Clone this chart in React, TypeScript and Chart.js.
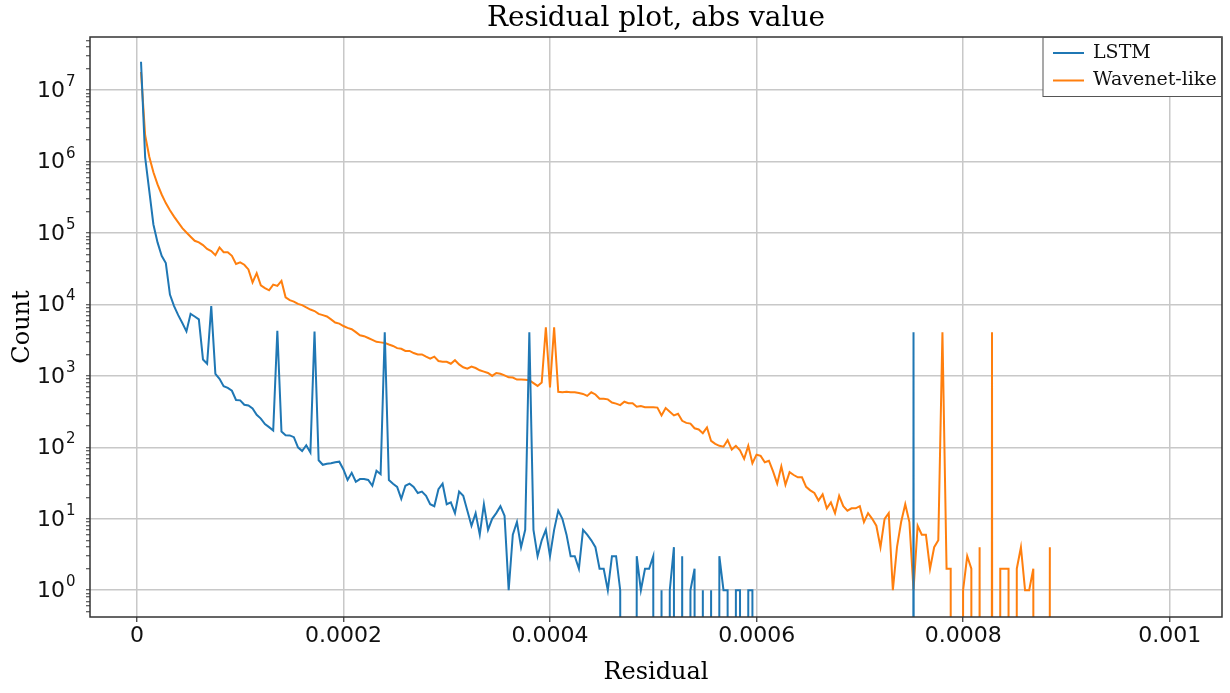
import React, { useEffect, useRef } from 'react';
import { Chart, registerables } from 'chart.js';

Chart.register(...registerables);

// Histogram of absolute residuals: bin spacing and the centre of the first bin
const binWidth = 4.0e-6;
const firstBinCenter = 3.9e-6;

// Counts per bin, LSTM model
const lstmCounts = [
  25000000, 1150000, 389000, 132000, 74000, 48000, 38000, 13800, 9500, 7100,
  5500, 4200, 7400, 6800, 6200, 1700, 1480, 9500, 1070, 910,
  720, 680, 620, 460, 455, 395, 385, 350, 285, 253,
  212, 192, 172, 4300, 167, 148, 147, 139, 100, 89,
  107, 85, 4200, 66, 57, 59, 60, 62, 63, 49,
  35, 44, 33, 36, 36, 35, 29, 47, 42, 4100,
  35, 31, 28, 19, 29, 31, 28, 23, 24, 21,
  16, 15, 26, 31, 16, 17, 12, 24, 21, 13,
  8, 12, 6, 16, 7, 10, 12, 15, 11, 1,
  6, 9, 4, 7, 4100, 7, 3, 5, 7, 3,
  7, 13, 10, 6, 3, 3, 2, 7, 6, 5,
  4, 2, 2, 1, 3, 3, 1, 0, 0, 0,
  3, 1, 2, 2, 3, 0, 1, 0, 1, 4,
  0, 3, 0, 1, 2, 0, 1, 0, 1, 0,
  3, 1, 1, 0, 1, 1, 0, 1, 1, 0,
  0, 0, 0, 0, 0, 0, 0, 0, 0, 0,
  0, 0, 0, 0, 0, 0, 0, 0, 0, 0,
  0, 0, 0, 0, 0, 0, 0, 0, 0, 0,
  0, 0, 0, 0, 0, 0, 0, 4100, 0, 0,
  0, 0, 0, 0, 0, 0, 0, 0, 0, 0,
  0, 0, 0, 0, 0, 0, 0, 0, 0, 0,
  0, 0, 0, 0, 0, 0, 0, 0, 0, 0,
  0,
];

// Counts per bin, Wavenet-like model
const wavenetCounts = [
  18000000, 2340000, 1170000, 710000, 480000, 347000, 263000, 209000, 170000, 141000,
  117000, 102000, 89000, 78000, 74000, 68000, 60000, 56000, 49000, 63000,
  54000, 54000, 48000, 37000, 39000, 36000, 31000, 20400, 27500, 18600,
  17000, 15800, 19000, 18200, 21400, 12600, 11500, 11000, 10200, 9800,
  9100, 8500, 8100, 7400, 7100, 6800, 6200, 5600, 5400, 5000,
  4700, 4500, 4100, 3700, 3600, 3400, 3200, 3000, 2950, 2900,
  2750, 2630, 2450, 2400, 2240, 2240, 2090, 2000, 2000, 1860,
  1740, 1860, 1620, 1580, 1580, 1480, 1660, 1450, 1320, 1260,
  1350, 1290, 1200, 1150, 1100, 1000, 1100, 1070, 1020, 955,
  950, 890, 890, 885, 870, 795, 725, 810, 4800, 690,
  4800, 600, 590, 600, 590, 590, 575, 560, 525, 590,
  550, 480, 480, 470, 425, 410, 390, 435, 415, 415,
  370, 380, 365, 365, 365, 360, 280, 355, 315, 280,
  295, 235, 220, 215, 185, 178, 158, 190, 123, 112,
  105, 102, 126, 93, 105, 91, 69, 105, 60, 79,
  76, 62, 65, 46, 31, 54, 30, 45, 41, 38,
  38, 28, 25, 23, 18, 22, 14, 17, 12, 21,
  15, 13, 14, 14, 15, 9, 12, 10, 8, 4,
  10, 12, 1, 4, 9, 16, 9, 1, 8, 6,
  6, 2, 4, 5, 4100, 2, 2, 0, 0, 1,
  3, 2, 0, 4, 0, 0, 4100, 0, 2, 2,
  2, 0, 2, 4, 1, 1, 2, 0, 0, 0,
  4,
];

const seriesNames = ['LSTM', 'Wavenet-like'];
const seriesColors = ['#1f77b4', '#ff7f0e'];

// Axis ticks and limits
const xTickValues = [0, 0.0002, 0.0004, 0.0006, 0.0008, 0.001];
const xTickLabels = ['0', '0.0002', '0.0004', '0.0006', '0.0008', '0.001'];
const yDecades = [0, 1, 2, 3, 4, 5, 6, 7];
const xLimits = [-4.55e-5, 1.0506e-3];
const yLimits = [0.4217, 5.56e7];

const titleText = 'Residual plot, abs value';
const xTitle = 'Residual';
const yTitle = 'Count';

// Empty bins sit far below the visible range, as a clipped log plot draws them
const LOG_FLOOR = 1e-100;

const SERIF = '"DejaVu Serif", serif';
const SANS = '"DejaVu Sans", sans-serif';
const GRID = '#c8c8c8';
const AXIS = '#333333';
const TEXT = '#111111';

const toPoints = (counts: number[]) =>
  counts.map((c, i) => ({ x: firstBinCenter + i * binWidth, y: c > 0 ? c : LOG_FLOOR }));

const isDecade = (v: number) => {
  const l = Math.log10(v);
  return Math.abs(l - Math.round(l)) < 1e-6;
};

const yTickValues: number[] = [];
for (let e = -1; e <= 7; e++) {
  for (let m = 1; m <= 9; m++) {
    const v = m * Math.pow(10, e);
    if (v >= yLimits[0] && v <= yLimits[1]) yTickValues.push(v);
  }
}

const decorations = {
  id: 'decorations',
  afterDatasetsDraw(chart: any) {
    const { ctx, chartArea: a } = chart;
    ctx.save();
    ctx.strokeStyle = AXIS;
    ctx.lineWidth = 1.5;
    ctx.strokeRect(a.left, a.top, a.right - a.left, a.bottom - a.top);
    ctx.restore();
  },
  afterDraw(chart: any) {
    const { ctx, chartArea: a, scales } = chart;
    const y = scales.y;
    ctx.save();
    // decade labels on the log axis: 10 with a raised exponent
    ctx.fillStyle = TEXT;
    ctx.textBaseline = 'middle';
    for (const p of yDecades) {
      const py = y.getPixelForValue(Math.pow(10, p));
      ctx.font = `22px ${SANS}`;
      ctx.textAlign = 'right';
      ctx.fillText('10', 65, py + 1);
      ctx.font = `15px ${SANS}`;
      ctx.textAlign = 'left';
      ctx.fillText(String(p), 66, py - 8);
    }

    // legend box in the upper right corner
    const boxW = 178.5;
    const boxH = 59;
    const bx = a.right - boxW - 0.5;
    const by = a.top + 0.5;
    ctx.fillStyle = '#ffffff';
    ctx.fillRect(bx, by, boxW, boxH);
    ctx.strokeStyle = '#555555';
    ctx.lineWidth = 1;
    ctx.strokeRect(bx, by, boxW, boxH);
    chart.data.datasets.forEach((ds: any, i: number) => {
      const ly = by + 15.5 + i * 27.5;
      ctx.strokeStyle = ds.borderColor;
      ctx.lineWidth = 2;
      ctx.beginPath();
      ctx.moveTo(bx + 10, ly);
      ctx.lineTo(bx + 41, ly);
      ctx.stroke();
      ctx.fillStyle = TEXT;
      ctx.font = `19px ${SERIF}`;
      ctx.textAlign = 'left';
      ctx.textBaseline = 'middle';
      ctx.fillText(ds.label, bx + 50, ly);
    });
    ctx.restore();
  },
};

export default function App() {
  const ref = useRef<HTMLCanvasElement>(null);

  useEffect(() => {
    const canvas = ref.current;
    if (!canvas) return;
    const chart = new Chart(canvas, {
      type: 'line',
      data: {
        datasets: [lstmCounts, wavenetCounts].map((counts, i) => ({
          label: seriesNames[i],
          data: toPoints(counts),
          borderColor: seriesColors[i],
          backgroundColor: seriesColors[i],
          borderWidth: 2,
          pointRadius: 0,
          tension: 0,
          fill: false,
          clip: 0,
        })),
      },
      options: {
        responsive: false,
        animation: false,
        events: [],
        layout: { padding: { left: 0, right: 8, top: 0, bottom: 0 } },
        plugins: {
          legend: { display: false },
          tooltip: { enabled: false },
          title: {
            display: true,
            text: titleText,
            fullSize: false,
            color: '#000',
            font: { family: SERIF, size: 28, weight: 'normal' },
            padding: { top: 2, bottom: 1.4 },
          },
        },
        scales: {
          x: {
            type: 'linear',
            min: xLimits[0],
            max: xLimits[1],
            afterBuildTicks: (axis: any) => {
              axis.ticks = xTickValues.map((value) => ({ value }));
            },
            afterFit: (axis: any) => {
              axis.height = 76;
            },
            ticks: {
              autoSkip: false,
              maxRotation: 0,
              padding: 1,
              color: TEXT,
              font: { family: SANS, size: 22 },
              callback: (_v: any, i: number) => xTickLabels[i],
            },
            grid: { color: GRID, lineWidth: 1.5, tickColor: AXIS, tickWidth: 1.2, tickLength: 5 },
            border: { display: false },
            title: {
              display: true,
              text: xTitle,
              color: '#000',
              font: { family: SERIF, size: 24 },
              padding: { top: 0, bottom: 6 },
            },
          },
          y: {
            type: 'logarithmic',
            min: yLimits[0],
            max: yLimits[1],
            afterBuildTicks: (axis: any) => {
              axis.ticks = yTickValues.map((value) => ({ value }));
            },
            afterFit: (axis: any) => {
              axis.width = 90;
            },
            ticks: { display: false, autoSkip: false },
            grid: {
              color: (c: any) => (c.tick && isDecade(c.tick.value) ? GRID : 'rgba(0,0,0,0)'),
              lineWidth: 1.5,
              tickColor: AXIS,
              tickWidth: 1,
              tickLength: 4,
            },
            border: { display: false },
            title: {
              display: true,
              text: yTitle,
              color: '#000',
              font: { family: SERIF, size: 24 },
              padding: { top: 8, bottom: 0 },
            },
          },
        },
      },
      plugins: [decorations],
    } as any);
    return () => chart.destroy();
  }, []);

  return (
    <div style={{ position: 'fixed', left: 0, top: 0, width: 1230, height: 693, background: '#fff' }}>
      <canvas ref={ref} width={1230} height={693} style={{ display: 'block' }} />
    </div>
  );
}
